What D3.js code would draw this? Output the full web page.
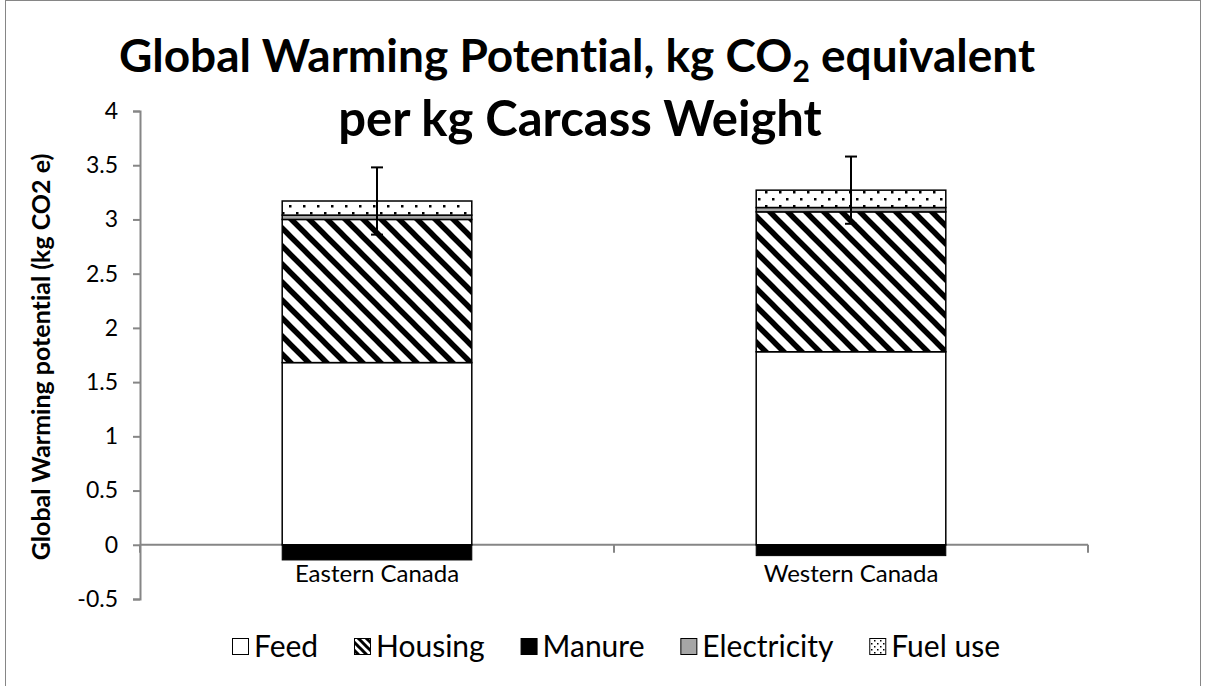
<!DOCTYPE html>
<html><head><meta charset="utf-8">
<script src="https://cdn.jsdelivr.net/npm/d3@7"></script>
<style>body{margin:0;background:#fff;} svg{display:block;} text{font-family:Lato,"Open Sans",sans-serif;font-variant-ligatures:none;font-feature-settings:"liga" 0;}</style>
</head><body>
<svg id="c" width="1206" height="686"></svg>
<script>
const categories = ["Eastern Canada", "Western Canada"];
const seriesNames = ["Feed", "Housing", "Manure", "Electricity", "Fuel use"];
const feed = [1.68, 1.78];
const housing = [1.32, 1.29];
const manure = [-0.14, -0.10];
const electricity = [0.04, 0.04];
const fuelUse = [0.13, 0.16];
const errorBars = [0.31, 0.31];
const yTicks = [-0.5, 0, 0.5, 1, 1.5, 2, 2.5, 3, 3.5, 4];

const svg = d3.select("#c");
const defs = svg.append("defs");
// hatch pattern for housing
const P = 18;
const ph = defs.append("pattern").attr("id","hatch").attr("patternUnits","userSpaceOnUse")
  .attr("width",P).attr("height",P);
ph.append("rect").attr("width",P).attr("height",P).attr("fill","#fff");
ph.append("path").attr("d",`M-5,-5 L${P+5},${P+5} M-5,${P-5} L5,${P+5} M${P-5},-5 L${P+5},5`)
  .attr("stroke","#000").attr("stroke-width",5.5);
// dots for fuel
const pd = defs.append("pattern").attr("id","dots").attr("patternUnits","userSpaceOnUse")
  .attr("width",14).attr("height",14);
pd.append("rect").attr("width",14).attr("height",14).attr("fill","#fff");
pd.append("rect").attr("x",2).attr("y",2).attr("width",2.5).attr("height",2.5).attr("fill","#000");
pd.append("rect").attr("x",9).attr("y",9).attr("width",2.5).attr("height",2.5).attr("fill","#000");
// smaller legend variants
const lh = defs.append("pattern").attr("id","hatchL").attr("patternUnits","userSpaceOnUse")
  .attr("width",8).attr("height",8);
lh.append("rect").attr("width",8).attr("height",8).attr("fill","#fff");
lh.append("path").attr("d","M-3,-3 L11,11 M-3,5 L3,11 M5,-3 L11,3").attr("stroke","#000").attr("stroke-width",3);
const ld = defs.append("pattern").attr("id","dotsL").attr("patternUnits","userSpaceOnUse")
  .attr("width",6).attr("height",6);
ld.append("rect").attr("width",6).attr("height",6).attr("fill","#fff");
ld.append("rect").attr("x",1).attr("y",1).attr("width",1.5).attr("height",1.5).attr("fill","#000");
ld.append("rect").attr("x",4).attr("y",4).attr("width",1.5).attr("height",1.5).attr("fill","#000");

const fills = {"Feed":"#fff","Housing":"url(#hatch)","Manure":"#000","Electricity":"#a6a6a6","Fuel use":"url(#dots)"};
const legendFills = {"Feed":"#fff","Housing":"url(#hatchL)","Manure":"#000","Electricity":"#a6a6a6","Fuel use":"url(#dotsL)"};

// border
svg.append("rect").attr("x",5.5).attr("y",0.5).attr("width",1195).attr("height",690)
  .attr("fill","none").attr("stroke","#868686").attr("stroke-width",1);

const x = d3.scaleBand().domain(categories).range([140,1088]).paddingInner(0).paddingOuter(0);
const y = d3.scaleLinear().domain([-0.5,4]).range([599,111]);
const bw = x.bandwidth()*0.4;

// axes
const yAxis = d3.axisLeft(y).tickValues(yTicks).tickSize(7).tickFormat(d=>String(d));
const gy = svg.append("g").attr("transform","translate(140,0)").call(yAxis);
gy.select(".domain").attr("stroke","#868686").attr("stroke-width",2);
gy.selectAll(".tick line").attr("stroke","#868686").attr("stroke-width",2);
gy.selectAll(".tick text").attr("font-size",23).attr("fill","#000").attr("x",-22);

// x axis line at 0
const gx = svg.append("g").attr("transform",`translate(0,${y(0)})`);
gx.append("line").attr("x1",140).attr("x2",1088).attr("stroke","#868686").attr("stroke-width",2);
const xt = [140, ...categories.map(c=>x(c)+x.bandwidth())];
gx.selectAll("line.t").data(xt).enter().append("line").attr("class","t")
  .attr("x1",d=>d).attr("x2",d=>d).attr("y1",0).attr("y2",8).attr("stroke","#868686").attr("stroke-width",2);
gx.selectAll("text").data(categories).enter().append("text")
  .attr("x",d=>x(d)+x.bandwidth()/2).attr("y",37).attr("text-anchor","middle")
  .attr("font-size",24).text(d=>d);

// stacks
const pos = [feed, housing, electricity, fuelUse];
const posNames = ["Feed","Housing","Electricity","Fuel use"];
categories.forEach((c,i)=>{
  let base = 0;
  const cx = x(c)+x.bandwidth()/2;
  pos.forEach((arr,k)=>{
    const v = arr[i];
    svg.append("rect").attr("x",cx-bw/2).attr("width",bw)
      .attr("y",y(base+v)).attr("height",y(base)-y(base+v))
      .attr("fill",fills[posNames[k]]).attr("stroke","#000").attr("stroke-width",1.5);
    base += v;
  });
  svg.append("rect").attr("x",cx-bw/2).attr("width",bw)
    .attr("y",y(0)).attr("height",y(manure[i])-y(0))
    .attr("fill",fills["Manure"]).attr("stroke","#000").attr("stroke-width",1);
  // error bar
  const e = errorBars[i];
  svg.append("line").attr("x1",cx).attr("x2",cx).attr("y1",y(base+e)).attr("y2",y(base-e)).attr("stroke","#000").attr("stroke-width",2);
  svg.append("line").attr("x1",cx-6).attr("x2",cx+6).attr("y1",y(base+e)).attr("y2",y(base+e)).attr("stroke","#000").attr("stroke-width",2);
  svg.append("line").attr("x1",cx-6).attr("x2",cx+6).attr("y1",y(base-e)).attr("y2",y(base-e)).attr("stroke","#000").attr("stroke-width",2);
});

// title
const t1 = svg.append("text").attr("x",577).attr("y",72).attr("text-anchor","middle")
  .attr("font-size",46).attr("font-weight","bold");
t1.append("tspan").text("Global Warming Potential, kg CO");
t1.append("tspan").attr("font-size",30).attr("dy",10).text("2");
t1.append("tspan").attr("dy",-10).text(" equivalent");
svg.append("text").attr("x",580).attr("y",136).attr("text-anchor","middle")
  .attr("font-size",49).attr("font-weight","bold").text("per kg Carcass Weight");

// y title
svg.append("text").attr("transform","translate(50,357) rotate(-90)").attr("text-anchor","middle")
  .attr("font-size",25).attr("font-weight","bold").text("Global Warming potential (kg CO2 e)");

// legend
const lg = svg.append("g");
const lfs = 30, sq = 16, toff = 22;
const items = seriesNames.map(n=>{
  const t = lg.append("text").attr("y",657).attr("font-size",lfs).text(n);
  return {n, t, w: t.node().getComputedTextLength()};
});
const total = items.reduce((s,d)=>s+toff+d.w,0);
const gap = (1000-232-total)/(items.length-1);
let lx = 232;
items.forEach(d=>{
  lg.append("rect").attr("x",lx+0.5).attr("y",638.5).attr("width",sq).attr("height",sq)
    .attr("fill",legendFills[d.n]).attr("stroke","#000").attr("stroke-width",1);
  d.t.attr("x",lx+toff);
  lx += toff + d.w + gap;
});
</script>
</body></html>
